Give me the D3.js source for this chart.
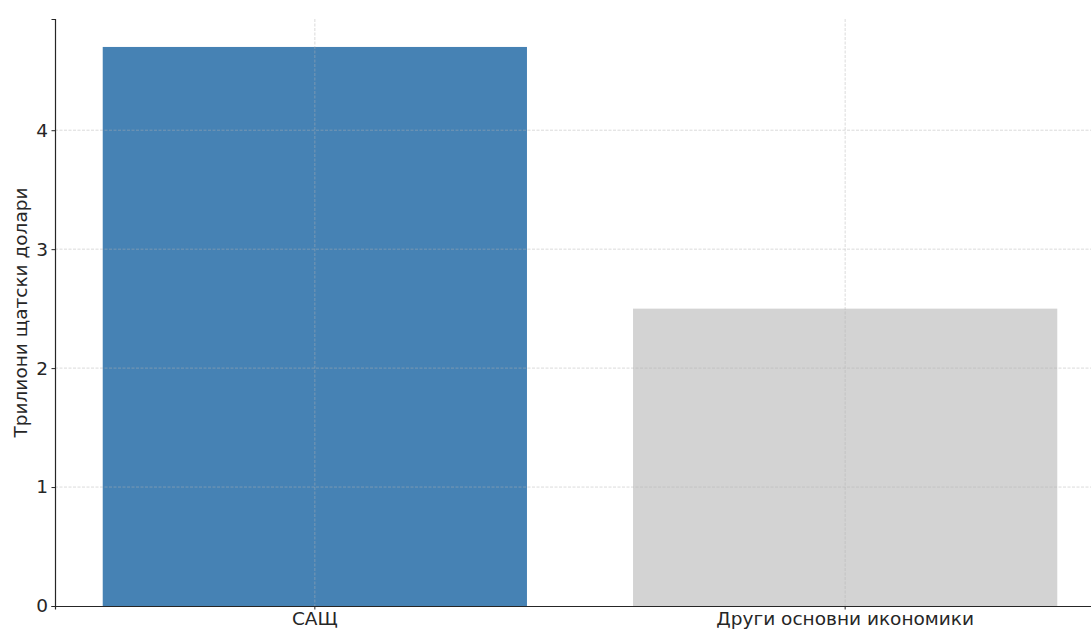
<!DOCTYPE html>
<html>
<head>
<meta charset="utf-8">
<script src="https://cdn.jsdelivr.net/npm/d3@7"></script>
<style>
  html, body { margin: 0; padding: 0; background: #fff; overflow: hidden; }
  svg { display: block; font-family: "DejaVu Sans", sans-serif; }
</style>
</head>
<body>
<svg id="chart" width="1091" height="630"></svg>
<script>
const categories = ["САЩ", "Други основни икономики"];
const values = [4.7, 2.5];
const barColors = ["#4682b4", "#d3d3d3"];
const yTicks = [0, 1, 2, 3, 4];
const yLabel = "Трилиони щатски долари";

const svg = d3.select("#chart");
const mLeft = 55, mRight = 1105, mTop = 19, mBottom = 606;
const fontSize = 18.5;

const x = d3.scaleBand().domain(categories).range([mLeft, mRight])
  .paddingInner(0.2).paddingOuter(0.09);
const y = d3.scaleLinear().domain([0, d3.max(values) * 1.05]).range([mBottom, mTop]);

// bars
svg.append("g").selectAll("rect").data(categories).join("rect")
  .attr("x", d => x(d))
  .attr("width", x.bandwidth())
  .attr("y", (d, i) => y(values[i]))
  .attr("height", (d, i) => y(0) - y(values[i]))
  .attr("fill", (d, i) => barColors[i]);

// grid (on top of bars)
const grid = svg.append("g").attr("stroke", "#b0b0b0").attr("stroke-opacity", 0.6)
  .attr("stroke-width", 0.8).attr("stroke-dasharray", "3,1.5");
grid.selectAll("line.h").data(yTicks.filter(t => t > 0)).join("line").attr("class", "h")
  .attr("x1", mLeft).attr("x2", mRight)
  .attr("y1", d => y(d)).attr("y2", d => y(d));
grid.selectAll("line.v").data(categories).join("line").attr("class", "v")
  .attr("x1", d => x(d) + x.bandwidth() / 2).attr("x2", d => x(d) + x.bandwidth() / 2)
  .attr("y1", mTop).attr("y2", mBottom);

// axes
const yAxis = svg.append("g").attr("transform", `translate(${mLeft},0)`)
  .call(d3.axisLeft(y).tickValues(yTicks).tickFormat(d3.format("d")).tickSizeOuter(0).tickSize(3.5).tickPadding(3.5));
const xAxis = svg.append("g").attr("transform", `translate(0,${mBottom})`)
  .call(d3.axisBottom(x).tickSizeOuter(0).tickSize(3.5).tickPadding(2.5));

[yAxis, xAxis].forEach(a => {
  a.selectAll("path.domain").attr("stroke", "#262626").attr("stroke-width", 1.2);
  a.selectAll(".tick line").attr("stroke", "#262626").attr("stroke-width", 1);
  a.selectAll(".tick text").attr("fill", "#262626").attr("font-size", fontSize)
    .attr("font-family", "DejaVu Sans, sans-serif");
});

svg.append("text")
  .attr("transform", `translate(27,${(mTop + mBottom) / 2}) rotate(-90)`)
  .attr("text-anchor", "middle")
  .attr("font-size", fontSize)
  .attr("fill", "#262626")
  .text(yLabel);
</script>
</body>
</html>
